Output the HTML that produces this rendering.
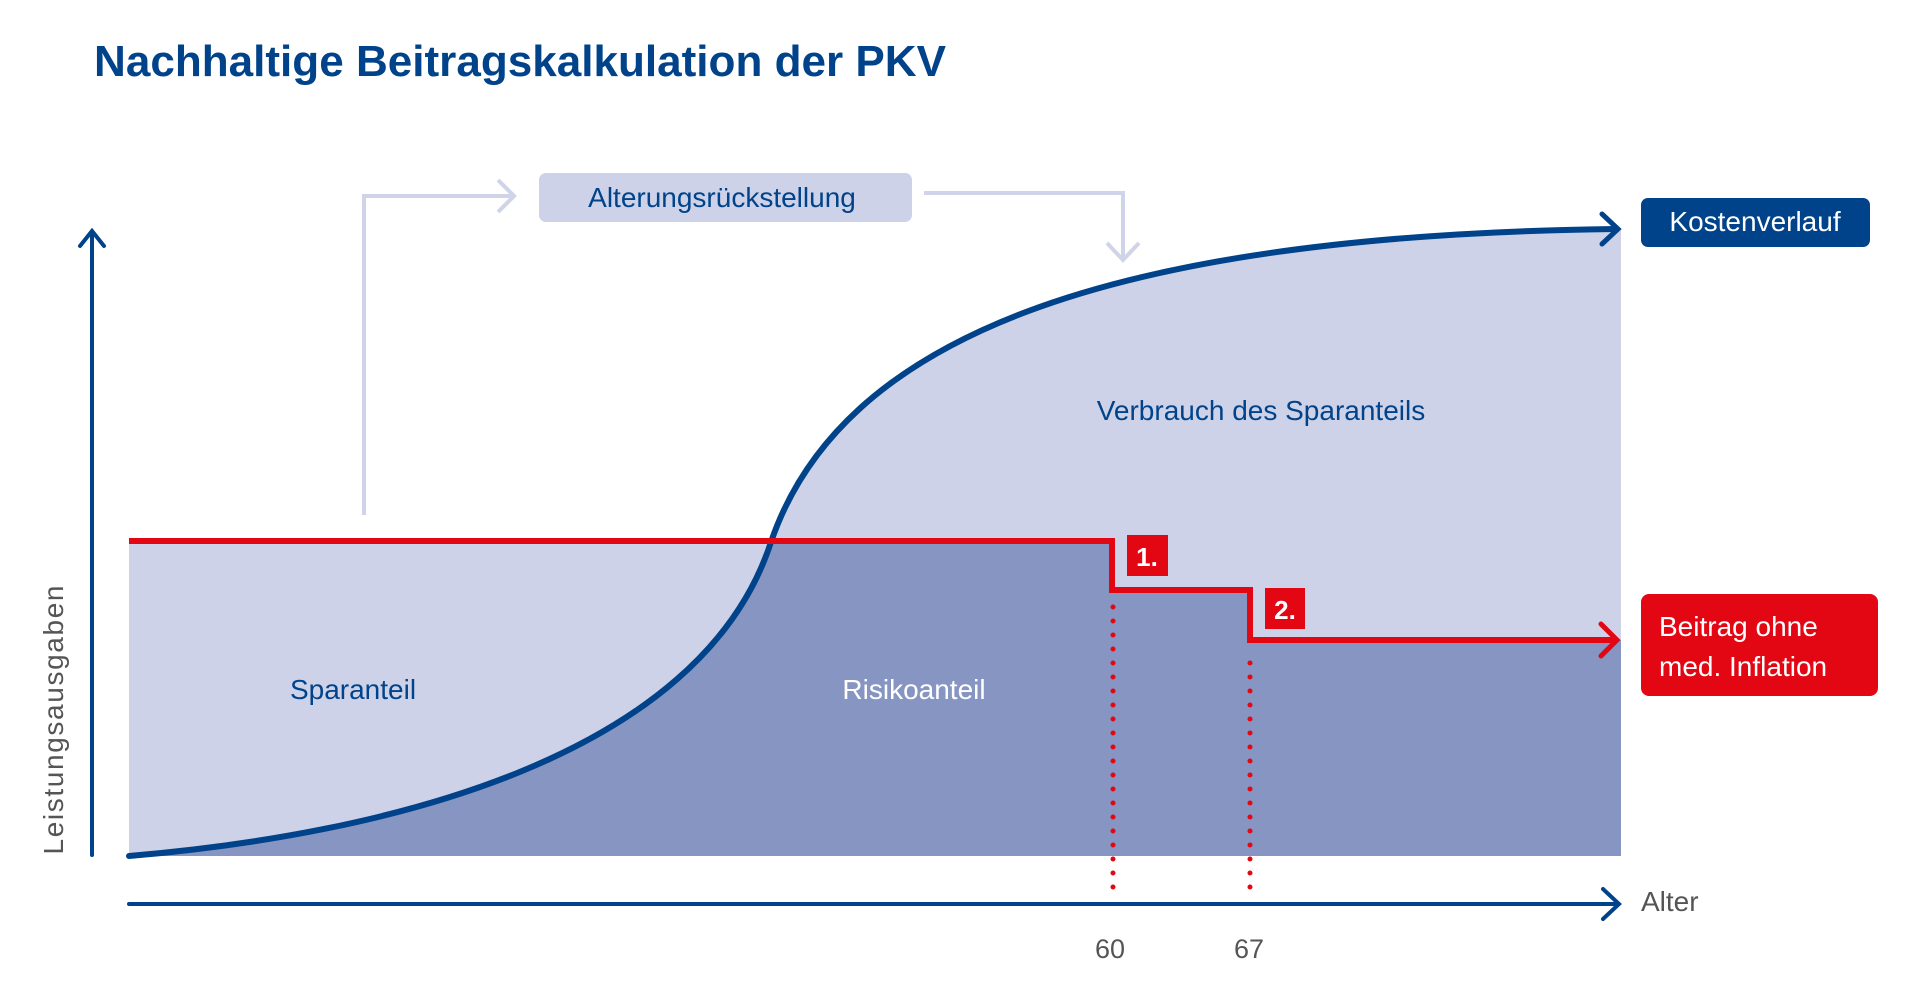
<!DOCTYPE html>
<html><head><meta charset="utf-8"><style>
html,body{margin:0;padding:0;background:#fff;}
svg{display:block;}
text{font-family:"Liberation Sans",sans-serif;}
</style></head><body>
<svg width="1920" height="1000" viewBox="0 0 1920 1000" xmlns="http://www.w3.org/2000/svg">
<text x="94" y="76" font-size="44" font-weight="bold" fill="#00438a" textLength="852" lengthAdjust="spacingAndGlyphs">Nachhaltige Beitragskalkulation der PKV</text>

<path d="M129,856 L129,541 L771,541 C840,340 1100,235 1616,229 L1621,229 L1621,856 Z" fill="#cdd2e8"/>
<path d="M129,856 C380,835 700,760 771,542 L1112,541 L1112,590 L1250,590 L1250,640 L1621,640 L1621,856 Z" fill="#8795c3"/>

<g fill="none" stroke="#d0d4e8" stroke-width="4">
<path d="M364,515 L364,196 L512,196"/>
<path d="M498,180 L514,196 L498,212"/>
<path d="M924,193 L1123,193 L1123,259"/>
<path d="M1107,243 L1123,260 L1139,243"/>
</g>
<rect x="539" y="173" width="373" height="49" rx="7" fill="#cdd2e8"/>
<text x="722" y="207" font-size="28" fill="#00438a" text-anchor="middle">Alterungsrückstellung</text>

<path d="M129,856 C380,835 700,760 771,542 C840,340 1100,235 1616,229" fill="none" stroke="#00438a" stroke-width="6" stroke-linecap="round"/>
<path d="M1602,214 L1618,229 L1602,244" fill="none" stroke="#00438a" stroke-width="5" stroke-linecap="round"/>

<path d="M129,541 L1112,541 L1112,590 L1250,590 L1250,640 L1616,640" fill="none" stroke="#e30613" stroke-width="6"/>
<path d="M1601,624 L1617,640 L1601,656" fill="none" stroke="#e30613" stroke-width="5" stroke-linecap="round"/>

<g stroke="#e30613" stroke-width="5" stroke-linecap="round" stroke-dasharray="0,14">
<line x1="1113" y1="607" x2="1113" y2="888"/>
<line x1="1250" y1="663" x2="1250" y2="888"/>
</g>

<rect x="1127" y="535" width="41" height="41" fill="#e30613"/>
<text x="1147" y="566" font-size="26" font-weight="bold" fill="#fff" text-anchor="middle">1.</text>
<rect x="1265" y="588" width="40" height="41" fill="#e30613"/>
<text x="1285" y="619" font-size="26" font-weight="bold" fill="#fff" text-anchor="middle">2.</text>

<g fill="none" stroke="#00438a" stroke-width="4" stroke-linecap="round">
<line x1="92" y1="855" x2="92" y2="232"/>
<path d="M80,246 L92,231 L104,246"/>
<line x1="129" y1="904" x2="1618" y2="904"/>
<path d="M1603,889 L1619,904 L1603,919"/>
</g>

<text x="353" y="699" font-size="28" fill="#00438a" text-anchor="middle">Sparanteil</text>
<text x="914" y="699" font-size="28" fill="#fff" text-anchor="middle">Risikoanteil</text>
<text x="1261" y="420" font-size="28" fill="#00438a" text-anchor="middle">Verbrauch des Sparanteils</text>

<rect x="1641" y="198" width="229" height="49" rx="7" fill="#00438a"/>
<text x="1755" y="231" font-size="28" fill="#fff" text-anchor="middle">Kostenverlauf</text>

<rect x="1641" y="594" width="237" height="102" rx="8" fill="#e30613"/>
<text x="1659" y="636" font-size="28" fill="#fff">Beitrag ohne</text>
<text x="1659" y="676" font-size="28" fill="#fff">med. Inflation</text>

<text x="1641" y="911" font-size="28" fill="#555">Alter</text>
<text x="1110" y="958" font-size="27" fill="#555" text-anchor="middle">60</text>
<text x="1249" y="958" font-size="27" fill="#555" text-anchor="middle">67</text>
<text transform="translate(63,720) rotate(-90)" font-size="28" fill="#555" text-anchor="middle" textLength="269" lengthAdjust="spacing">Leistungsausgaben</text>
</svg>
</body></html>
